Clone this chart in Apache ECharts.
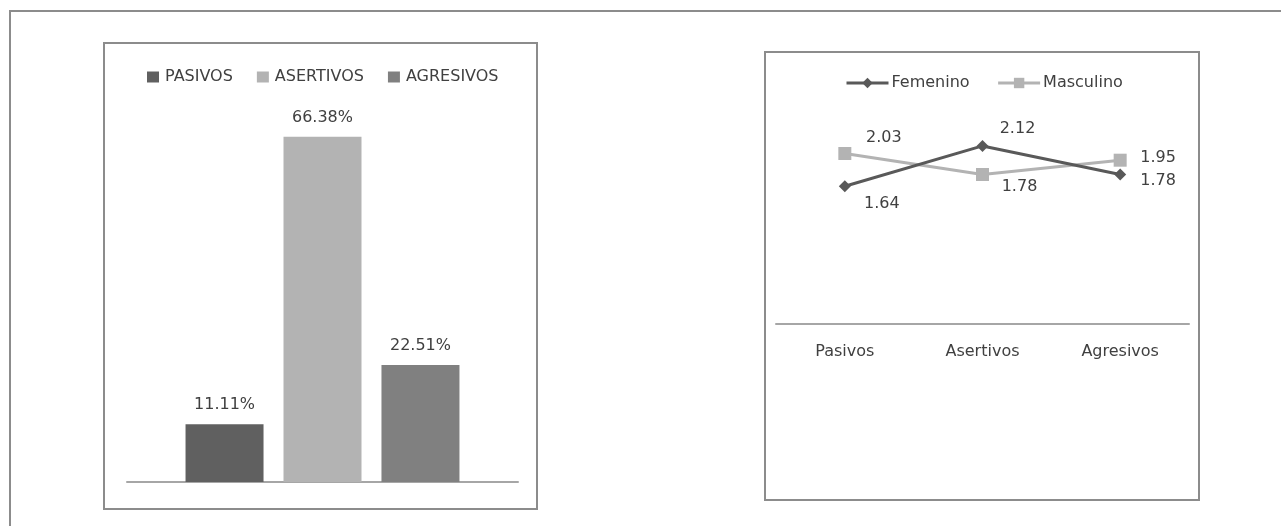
<!DOCTYPE html>
<html>
<head>
<meta charset="utf-8">
<script src="https://cdn.jsdelivr.net/npm/echarts@6/dist/echarts.min.js"></script>
<style>
  html, body { margin: 0; padding: 0; background: #ffffff; }
  #chart { width: 1281px; height: 526px; }
</style>
</head>
<body>
<div id="chart"></div>
<script>
// Distribución por estilo (porcentaje del total)
const groupNames = ['PASIVOS', 'ASERTIVOS', 'AGRESIVOS'];
const groupShares = [11.11, 66.38, 22.51];

// Puntaje medio por sexo en cada estilo
const categories = ['Pasivos', 'Asertivos', 'Agresivos'];
const femenino = [1.64, 2.12, 1.78];
const masculino = [2.03, 1.78, 1.95];

// Label placement (pixel offsets from each point), kept apart from the values
const femLabelOffsets = [[37, 18], [35, -17], [38, 6]];
const mascLabelOffsets = [[39, -16], [37, 12], [38, -2]];

const FONT = 'DejaVu Sans';
const TEXT = '#404040';
const barColors = ['#606060', '#b3b3b3', '#808080'];
const femColor = '#595959';
const mascColor = '#b3b3b3';
const frameColor = '#8c8c8c';
const axisColor = '#a6a6a6';

const chart = echarts.init(document.getElementById('chart'), null, { renderer: 'canvas' });

const barSeries = groupNames.map((name, i) => ({
  type: 'bar',
  name: name,
  xAxisIndex: 0,
  yAxisIndex: 0,
  data: [groupShares[i]],
  barWidth: 78,
  barGap: '25.6%',
  itemStyle: { color: barColors[i] },
  label: {
    show: true,
    position: 'top',
    distance: 11,
    color: TEXT,
    fontFamily: FONT,
    fontSize: 16,
    formatter: p => p.value.toFixed(2) + '%'
  }
}));

function withLabels(values, offsets) {
  return values.map((v, i) => ({
    value: v,
    label: { offset: offsets[i] }
  }));
}

const lineLabel = {
  show: true,
  position: 'inside',
  color: TEXT,
  fontFamily: FONT,
  fontSize: 16,
  formatter: p => p.value.toFixed(2)
};

const option = {
  animation: false,
  backgroundColor: '#ffffff',
  textStyle: { fontFamily: FONT },
  graphic: [
    { type: 'rect', shape: { x: 10, y: 11, width: 1400, height: 700 },
      style: { fill: 'none', stroke: frameColor, lineWidth: 2 }, silent: true },
    { type: 'rect', shape: { x: 104, y: 43, width: 433, height: 466 },
      style: { fill: '#ffffff', stroke: frameColor, lineWidth: 2 }, silent: true, z: -1 },
    { type: 'rect', shape: { x: 765, y: 52, width: 434, height: 448 },
      style: { fill: '#ffffff', stroke: frameColor, lineWidth: 2 }, silent: true, z: -1 }
  ],
  legend: [
    {
      data: groupNames,
      left: 147,
      top: 69,
      padding: 0,
      itemWidth: 12,
      itemHeight: 11,
      itemGap: 24,
      icon: 'rect',
      textStyle: { color: TEXT, fontFamily: FONT, fontSize: 16, padding: [0, 0, 0, 1] }
    },
    {
      data: ['Femenino', 'Masculino'],
      left: 845,
      top: 75,
      padding: 0,
      itemWidth: 42,
      itemHeight: 13,
      itemGap: 27,
      lineStyle: { width: 3 },
      textStyle: { color: TEXT, fontFamily: FONT, fontSize: 16, padding: [0, 0, 0, -2] }
    }
  ],
  grid: [
    { left: 127, top: 118, width: 391, height: 364 },
    { left: 776, top: 114, width: 413, height: 210 }
  ],
  xAxis: [
    {
      type: 'category',
      gridIndex: 0,
      data: [''],
      axisLine: { lineStyle: { color: axisColor, width: 2 } },
      axisTick: { show: false },
      axisLabel: { show: false }
    },
    {
      type: 'category',
      gridIndex: 1,
      data: categories,
      boundaryGap: true,
      axisLine: { lineStyle: { color: axisColor, width: 2 } },
      axisTick: { show: false },
      axisLabel: { color: TEXT, fontFamily: FONT, fontSize: 16, margin: 20 }
    }
  ],
  yAxis: [
    { type: 'value', gridIndex: 0, min: 0, max: 70, show: false, splitLine: { show: false } },
    { type: 'value', gridIndex: 1, min: 0, max: 2.5, show: false, splitLine: { show: false } }
  ],
  series: barSeries.concat([
    {
      type: 'line',
      name: 'Femenino',
      xAxisIndex: 1,
      yAxisIndex: 1,
      data: withLabels(femenino, femLabelOffsets),
      symbol: 'diamond',
      symbolSize: 12,
      lineStyle: { color: femColor, width: 3 },
      itemStyle: { color: femColor },
      label: lineLabel,
      z: 3
    },
    {
      type: 'line',
      name: 'Masculino',
      xAxisIndex: 1,
      yAxisIndex: 1,
      data: withLabels(masculino, mascLabelOffsets),
      symbol: 'rect',
      symbolSize: 13,
      lineStyle: { color: mascColor, width: 3 },
      itemStyle: { color: mascColor },
      label: lineLabel,
      z: 2
    }
  ])
};

chart.setOption(option);
</script>
</body>
</html>
